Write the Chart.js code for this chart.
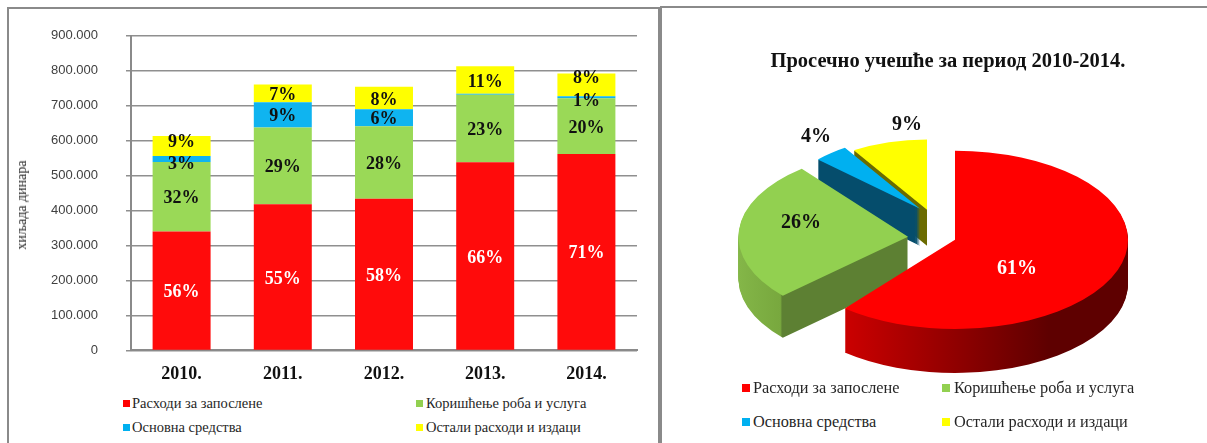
<!DOCTYPE html>
<html>
<head>
<meta charset="utf-8">
<script src="https://cdn.jsdelivr.net/npm/chart.js@4"></script>
<style>
  html, body { margin: 0; padding: 0; background: #fff; }
  body { width: 1207px; height: 443px; position: relative; overflow: hidden; }
  .panel { position: absolute; bottom: -5px; border: 2px solid #8a8a8a; box-sizing: border-box; }
  #barWrap { position: absolute; left: 0; top: 0; width: 660px; height: 390px; }
  #pieWrap { position: absolute; left: 662px; top: 0; width: 545px; height: 400px; }
  .leg { position: absolute; font-family: "Liberation Serif", serif; color: #262626; white-space: nowrap; }
  .leg i { position: absolute; display: block; }
  #yTitle { position: absolute; left: 22px; top: 205px; font: 14px "Liberation Serif", serif; color: #262626;
    white-space: nowrap; transform: translate(-50%, -50%) rotate(-90deg); }
</style>
</head>
<body>
<div class="panel" style="left:7px;top:7px;width:653px"></div>
<div class="panel" style="left:660px;top:6px;width:560px"></div>
<div id="barWrap"><canvas id="barChart"></canvas></div>
<div id="pieWrap"><canvas id="pieChart"></canvas></div>
<div id="yTitle">хиљада динара</div>
<div id="legends"></div>
<script>
// Bar chart data
const years = ['2010.', '2011.', '2012.', '2013.', '2014.'];
const seriesNames = ['Расходи за запослене', 'Коришћење роба и услуга', 'Основна средства', 'Остали расходи и издаци'];
const staff = [340000, 418000, 434000, 538000, 562000];
const goods = [199000, 220000, 207000, 193000, 159000];
const assets = [17000, 72000, 49000, 3000, 6000];
const other = [57000, 51000, 64000, 79000, 65000];
const staffPct = ['56%', '55%', '58%', '66%', '71%'];
const goodsPct = ['32%', '29%', '28%', '23%', '20%'];
const assetsPct = ['3%', '9%', '6%', '', '1%'];
const otherPct = ['9%', '7%', '8%', '11%', '8%'];

// Pie data
const pieValues = [61, 26, 4, 9];
const pieLabels = ['61%', '26%', '4%', '9%'];

const colors = ['#ff0b0b', '#9ad957', '#0fb4f0', '#ffff00'];
const pieColors = ['#ff0000', '#92d050', '#00b0f0', '#ffff00'];
const serif = '"Liberation Serif", serif';

// percent labels inside the stacks, small nudges where the original overlaps
const barLabelNudge = { '3-0': -6, '3-4': -9, '2-0': 3, '2-4': 2 };

const stackLabels = {
  id: 'stackLabels',
  afterDatasetsDraw(chart) {
    const ctx = chart.ctx;
    ctx.save();
    ctx.textAlign = 'center';
    ctx.textBaseline = 'middle';
    ctx.font = 'bold 18px ' + serif;
    chart.data.datasets.forEach((ds, d) => {
      chart.getDatasetMeta(d).data.forEach((bar, i) => {
        if (!ds.pct[i]) return;
        const y = (bar.y + bar.base) / 2 + 2 + (barLabelNudge[d + '-' + i] || 0);
        ctx.fillStyle = d === 0 ? '#fff' : '#111';
        ctx.fillText(ds.pct[i], bar.x, y);
      });
    });
    ctx.restore();
  }
};

new Chart(document.getElementById('barChart'), {
  type: 'bar',
  data: {
    labels: years,
    datasets: [
      { label: seriesNames[0], data: staff, pct: staffPct, backgroundColor: colors[0] },
      { label: seriesNames[1], data: goods, pct: goodsPct, backgroundColor: colors[1] },
      { label: seriesNames[2], data: assets, pct: assetsPct, backgroundColor: colors[2] },
      { label: seriesNames[3], data: other, pct: otherPct, backgroundColor: colors[3] }
    ]
  },
  options: {
    responsive: true,
    maintainAspectRatio: false,
    animation: false,
    layout: { padding: { left: 15, top: 30, right: 23, bottom: 0 } },
    datasets: { bar: { categoryPercentage: 1, barPercentage: 0.573 } },
    plugins: { legend: { display: false }, title: { display: false }, tooltip: { enabled: false } },
    scales: {
      x: {
        stacked: true,
        grid: { display: false },
        border: { color: '#8a8a8a', width: 2 },
        ticks: { color: '#111', padding: 5, font: { family: serif, size: 18, weight: 'bold' } }
      },
      y: {
        stacked: true,
        min: 0,
        max: 900000,
        afterFit(scale) { scale.width = 116; },
        border: { color: '#8a8a8a', width: 2 },
        grid: { color: '#8f8f8f', lineWidth: 1.5, tickLength: 5 },
        ticks: {
          stepSize: 100000,
          color: '#404040',
          padding: 28,
          font: { family: '"Liberation Sans", sans-serif', size: 13 },
          callback: v => v === 0 ? '0' : (v / 1000).toFixed(0) + '.000'
        }
      }
    }
  },
  plugins: [stackLabels]
});

// 3D look for the pie: squash the arcs vertically and stack darker copies below
const squash = 0.515;
const depth = [44, 42, 37, 36];
const shift = [[7, 3], [-40, 0], [-28, -28], [-21, -27]];
const size = [1, 0.98, 0.81, 0.79];
const spin = [0, 8, 0, 0]; // degrees, stands in for the perspective of the original

function sideFill(ctx, i) {
  const g = ctx.createLinearGradient(60, 0, 470, 0);
  if (i === 0) {
    g.addColorStop(0.28, '#cc0000');
    g.addColorStop(0.78, '#5e0000');
  } else if (i === 1) {
    g.addColorStop(0.05, '#8cc04f');
    g.addColorStop(0.275, '#78a83e');
    g.addColorStop(0.28, '#5d8033');
  } else if (i === 2) {
    g.addColorStop(0, '#054d6c');
    g.addColorStop(1, '#054d6c');
  } else {
    g.addColorStop(0, '#6b6b00');
    g.addColorStop(1, '#6b6b00');
  }
  return g;
}

const pie3d = {
  id: 'pie3d',
  beforeDatasetsDraw(chart) {
    const ctx = chart.ctx;
    const arcs = chart.getDatasetMeta(0).data;
    const cx = arcs[0].x, cy = arcs[0].y;
    // back slices first so the red one sits in front
    [3, 2, 1, 0].forEach(i => {
      const arc = arcs[i];
      const top = arc.options.backgroundColor;
      const side = sideFill(ctx, i);
      arc.options.borderWidth = 0;
      for (let h = depth[i]; h >= 0; h--) {
        ctx.save();
        ctx.translate(cx + shift[i][0], cy + shift[i][1] + h);
        ctx.scale(size[i], squash * size[i]);
        ctx.rotate(spin[i] * Math.PI / 180);
        ctx.translate(-cx, -cy);
        arc.options.backgroundColor = h === 0 ? top : side;
        arc.draw(ctx);
        ctx.restore();
      }
      arc.options.backgroundColor = top;
    });
  },
  beforeDatasetDraw() { return false; },
  afterDraw(chart) {
    const ctx = chart.ctx;
    const arcs = chart.getDatasetMeta(0).data;
    const cx = arcs[0].x, cy = arcs[0].y;
    // label spots relative to the pie centre
    const spots = [[69, 32], [-147, -14], [-132, -100], [-41, -112]];
    ctx.save();
    ctx.font = 'bold 20px ' + serif;
    ctx.textAlign = 'center';
    ctx.textBaseline = 'middle';
    pieLabels.forEach((t, i) => {
      ctx.fillStyle = i === 0 ? '#fff' : '#111';
      ctx.fillText(t, cx + spots[i][0], cy + spots[i][1]);
    });
    ctx.restore();
  }
};

new Chart(document.getElementById('pieChart'), {
  type: 'pie',
  data: {
    labels: seriesNames,
    datasets: [{ data: pieValues, backgroundColor: pieColors, borderWidth: 0, radius: 173 }]
  },
  options: {
    responsive: true,
    maintainAspectRatio: false,
    animation: false,
    layout: { padding: { top: 49, bottom: 0, left: 27, right: 0 } },
    plugins: {
      legend: { display: false },
      tooltip: { enabled: false },
      title: {
        display: true,
        text: 'Просечно учешће за период 2010-2014.',
        color: '#111',
        padding: { top: 0, bottom: 0 },
        font: { family: serif, size: 20.5, weight: 'bold' }
      }
    }
  },
  plugins: [pie3d]
});

// Legends are plain positioned text, two columns like the original
function addLegend(swatchX, textX, rowY, fontSize, box, pal) {
  const host = document.getElementById('legends');
  seriesNames.forEach((name, i) => {
    const el = document.createElement('div');
    el.className = 'leg';
    const col = i % 2, row = i < 2 ? 0 : 1;
    el.style.left = textX[col] + 'px';
    el.style.top = (rowY[row] - fontSize * 0.6) + 'px';
    el.style.fontSize = fontSize + 'px';
    el.textContent = name;
    const sw = document.createElement('i');
    sw.style.cssText = `left:${swatchX[col] - textX[col]}px;top:${fontSize * 0.6 - box / 2}px;width:${box}px;height:${box}px;background:${pal[i]}`;
    el.appendChild(sw);
    host.appendChild(el);
  });
}
addLegend([123, 416], [132, 426], [404, 428], 14.5, 7, pieColors);
addLegend([742, 942], [753, 954], [388, 422], 16.3, 8, pieColors);
</script>
</body>
</html>
